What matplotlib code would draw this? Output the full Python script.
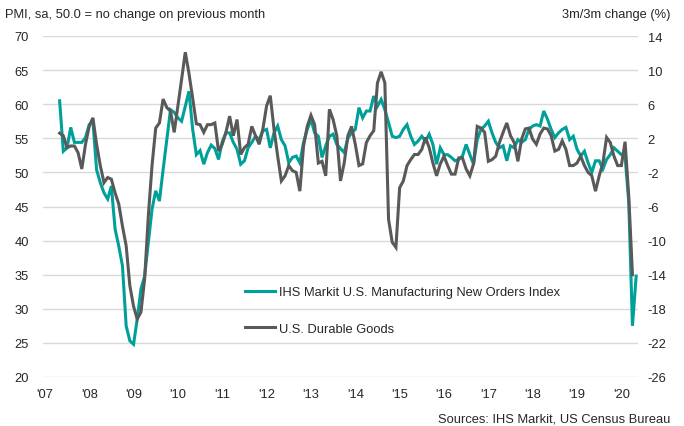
import matplotlib
matplotlib.use('Agg')
import matplotlib.pyplot as plt
import numpy as np

plt.rcParams['font.family'] = ['Liberation Sans', 'DejaVu Sans']
plt.rcParams['axes.unicode_minus'] = False

# months counted from Jan 2007 (0) to May 2020 (160)
pmi_start = 4   # May 2007
pmi_new_orders = [
    60.5, 53.1, 53.6, 56.6, 54.4, 54.4, 54.4, 55.1,
    57.0, 57.5, 50.4, 48.5, 47.0, 46.1, 48.0, 41.7, 39.2, 36.3, 27.5, 25.3,
    24.8, 28.5, 32.9, 34.8, 39.7, 44.6, 47.3, 45.8, 50.4, 54.8, 59.2, 58.8,
    58.0, 57.5, 59.7, 61.9, 56.3, 52.6, 53.2, 51.2, 52.9, 54.0, 53.5, 51.9,
    54.5, 55.8, 55.8, 54.4, 53.4, 51.2, 51.7, 53.6, 54.4, 55.3, 54.8, 56.1,
    56.3, 53.6, 55.8, 56.8, 54.8, 53.9, 51.4, 52.2, 52.4, 51.4, 54.4, 56.3,
    57.8, 55.8, 55.3, 52.2, 53.9, 55.3, 55.6, 54.1, 53.5, 52.9, 55.0, 55.8,
    56.3, 59.5, 58.0, 59.0, 59.0, 61.2, 59.7, 60.7, 59.2, 57.3, 55.3, 55.1,
    55.3, 56.3, 57.0, 55.3, 54.1, 54.6, 55.3, 54.6, 55.6, 54.1, 51.2, 53.6,
    52.6, 52.6, 52.2, 51.7, 51.9, 52.4, 54.1, 52.6, 51.2, 54.8, 56.3, 56.8,
    57.5, 55.8, 54.4, 53.6, 53.9, 51.7, 53.9, 53.6, 54.8, 54.4, 54.8, 56.3,
    56.8, 57.0, 56.8, 59.0, 57.8, 56.3, 55.1, 55.8, 56.3, 56.6, 54.8, 55.3,
    53.4, 52.4, 53.1, 51.4, 50.0, 51.7, 51.7, 50.5, 51.9, 52.6, 53.6, 53.1,
    52.6, 52.4, 45.6, 27.5, 34.8,
]

durable_start = 4
durable_goods = [
    2.6, 2.3, 0.9, 1.1, 1.1, 0.3, -1.6, 1.3,
    3.4, 4.4, 1.3, -1.2, -3.2, -2.6, -2.8, -4.4, -5.7, -8.3, -10.6, -15.3,
    -17.7, -19.2, -18.4, -14.5, -7.1, -1.2, 3.2, 3.8, 6.6, 5.6, 5.2, 2.7,
    5.8, 8.9, 12.1, 9.6, 6.7, 3.7, 3.6, 2.7, 3.6, 3.6, 3.8, 0.5,
    1.3, 2.7, 4.6, 2.3, 4.2, 0.1, 0.9, 1.3, 3.4, 2.3, 1.3, 3.1,
    5.8, 7.0, 3.1, -0.1, -3.0, -2.4, -1.2, -1.8, -2.0, -4.2, 1.1, 3.4,
    4.7, 3.6, -0.9, -0.7, -2.4, 5.4, 4.2, 2.3, -3.0, -0.9, 2.3, 3.4,
    1.3, -1.2, -1.0, 1.5, 2.3, 2.9, 8.5, 9.8, 8.5, -7.5, -10.2, -10.8,
    -3.8, -3.0, -1.2, -0.5, 0.1, 0.1, 0.7, 2.1, 0.9, -0.9, -2.4, -1.0,
    -0.1, -1.2, -2.2, -2.2, -0.3, -0.3, -1.6, -2.4, -1.0, 3.4, 3.2, 2.7,
    -0.7, -0.5, -0.1, 1.5, 2.7, 3.8, 2.3, 1.5, -0.7, 1.9, 3.1, 3.2,
    1.9, 1.3, 2.5, 3.2, 3.1, 2.3, 0.5, 0.7, 1.7, 0.7, -1.2, -1.2,
    -0.9, -0.1, -1.2, -2.0, -2.4, -4.2, -2.4, -0.9, 2.1, 1.5, -0.1, -1.2,
    -1.2, 1.6, -4.8, -14.0,
]

year_labels = ["'07", "'08", "'09", "'10", "'11", "'12", "'13", "'14",
               "'15", "'16", "'17", "'18", "'19", "'20"]

teal = '#00A09A'
grey = '#595959'
text_col = '#262626'
fs = 9.3

fig = plt.figure(figsize=(6.84, 4.27), dpi=100)
ax = fig.add_axes([43 / 684, 1 - 378 / 427, 595 / 684, 341 / 427])
ax2 = ax.twinx()

x_pmi = np.arange(len(pmi_new_orders)) + pmi_start
x_dur = np.arange(len(durable_goods)) + durable_start

l1, = ax.plot(x_pmi, pmi_new_orders, color=teal, lw=2.2, solid_joinstyle='miter',
              label='IHS Markit U.S. Manufacturing New Orders Index')
l2, = ax2.plot(x_dur, durable_goods, color=grey, lw=2.2, solid_joinstyle='miter',
               label='U.S. Durable Goods')

ax.set_xlim(-0.5, 160.5)
ax.set_ylim(20, 70)
ax2.set_ylim(-26, 14)
ax.set_yticks(np.arange(20, 71, 5))
ax2.set_yticks(np.arange(-26, 15, 4))
ax.set_xticks(np.arange(len(year_labels)) * 12)
ax.set_xticklabels(year_labels)

ax.grid(axis='y', color='#D9D9D9', lw=1)
ax.set_axisbelow(True)
for a in (ax, ax2):
    for s in a.spines.values():
        s.set_visible(False)
    a.tick_params(length=0, labelsize=fs, colors=text_col)
ax.tick_params(axis='y', pad=10)
ax2.tick_params(axis='y', pad=7)
ax.tick_params(axis='x', pad=8)

fig.text(5 / 684, 1 - 15 / 427, 'PMI, sa, 50.0 = no change on previous month',
         fontsize=fs, color=text_col, va='center', ha='left')
fig.text(670 / 684, 1 - 15 / 427, '3m/3m change (%)',
         fontsize=fs, color=text_col, va='center', ha='right')
fig.text(670 / 684, 1 - 420 / 427, 'Sources: IHS Markit, US Census Bureau',
         fontsize=fs, color=text_col, va='center', ha='right')

fig.legend(handles=[l1, l2], loc='upper left', bbox_to_anchor=(245 / 684, 1 - 287 / 427),
           frameon=False, fontsize=fs, handlelength=2.3, handletextpad=0.3,
           labelspacing=1.9, borderpad=0, borderaxespad=0, labelcolor=text_col)

fig.savefig('out.png', dpi=100)
